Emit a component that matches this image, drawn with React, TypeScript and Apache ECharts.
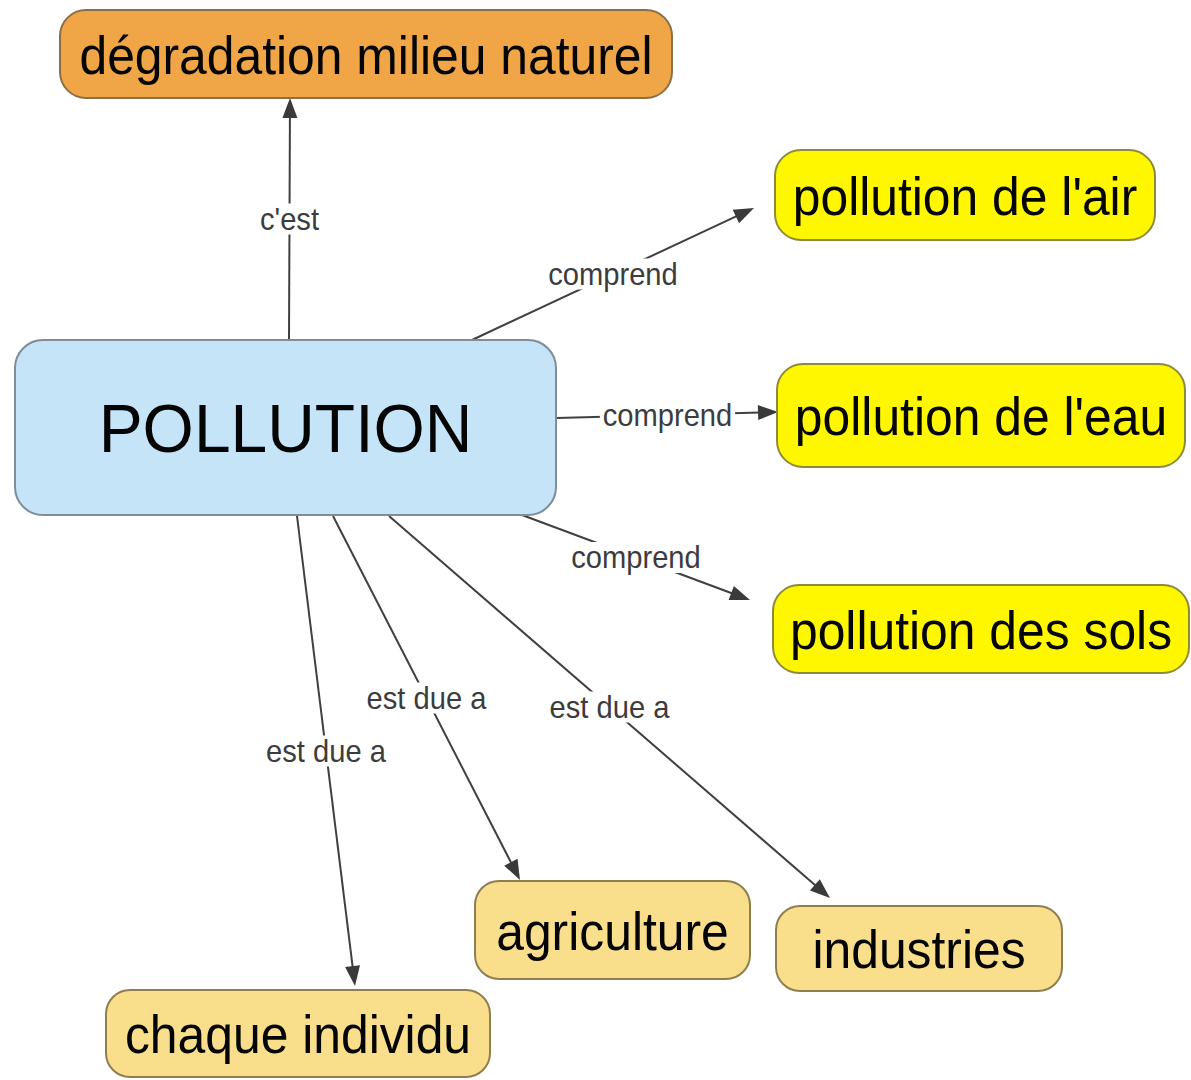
import React, { useEffect, useRef } from 'react';
import * as echarts from 'echarts';

// ---- content ----
const nodeLabels = [
  'dégradation milieu naturel',
  'POLLUTION',
  "pollution de l'air",
  "pollution de l'eau",
  'pollution des sols',
  'agriculture',
  'industries',
  'chaque individu',
];
const nodeGroups = ['effect', 'central', 'type', 'type', 'type', 'cause', 'cause', 'cause'];

const edgeSources = [1, 1, 1, 1, 1, 1, 1];
const edgeTargets = [0, 2, 3, 4, 7, 5, 6];
const edgeLabels = ["c'est", 'comprend', 'comprend', 'comprend', 'est due a', 'est due a', 'est due a'];

// ---- layout (map coordinates, 1191 x 1080 space) ----
const nodeBoxes = [
  [60, 10, 672, 98],
  [15, 340, 556, 515],
  [775, 150, 1155, 240],
  [777, 364, 1185, 467],
  [773, 585, 1189, 673],
  [475, 881, 750, 979],
  [776, 906, 1062, 991],
  [106, 990, 490, 1077],
];
const edgeAnchors = [
  [289, 340, 290, 98],
  [472, 340, 754, 208],
  [557, 418, 778, 412],
  [522, 515, 750, 600],
  [297, 516, 355, 986],
  [333, 516, 520, 880],
  [389, 516, 830, 898],
];

// ---- styles ----
const groupStyles: Record<string, { fill: string; stroke: string; fontSize: number; scaleX: number; r: number }> = {
  effect: { fill: '#F0A646', stroke: '#8a7048', fontSize: 53, scaleX: 0.94, r: 26 },
  central: { fill: '#C5E4F8', stroke: '#7d8d99', fontSize: 68, scaleX: 0.97, r: 28 },
  type: { fill: '#FFF700', stroke: '#8f8a3a', fontSize: 53, scaleX: 0.94, r: 26 },
  cause: { fill: '#F9DE8C', stroke: '#8f7f50', fontSize: 53, scaleX: 0.94, r: 24 },
};
const FONT = '"Liberation Sans", Arial, Helvetica, sans-serif';

export default function App() {
  const ref = useRef<HTMLDivElement>(null);
  useEffect(() => {
    if (!ref.current) return;
    const chart = echarts.init(ref.current, undefined, { renderer: 'svg' });
    const option: any = {
      animation: false,
      backgroundColor: '#ffffff',
      grid: { left: 0, right: 0, top: 0, bottom: 0 },
      xAxis: { type: 'value', min: 0, max: 1191, show: false },
      yAxis: { type: 'value', min: 0, max: 1080, inverse: true, show: false },
      series: [
        {
          type: 'custom',
          name: 'liens',
          coordinateSystem: 'cartesian2d',
          clip: false,
          z: 1,
          encode: { x: [0, 2], y: [1, 3] },
          data: edgeAnchors.map((a, i) => ({ value: a, name: `${nodeLabels[edgeSources[i]]} → ${nodeLabels[edgeTargets[i]]}` })),
          renderItem: (params: any, api: any) => {
            const p0 = api.coord([api.value(0), api.value(1)]);
            const p1 = api.coord([api.value(2), api.value(3)]);
            const dx = p1[0] - p0[0];
            const dy = p1[1] - p0[1];
            const len = Math.hypot(dx, dy);
            const ux = dx / len;
            const uy = dy / len;
            const AL = 20;
            const AW = 7.5;
            const bx = p1[0] - ux * AL;
            const by = p1[1] - uy * AL;
            const nx = -uy;
            const ny = ux;
            return {
              type: 'group',
              children: [
                {
                  type: 'line',
                  shape: { x1: p0[0], y1: p0[1], x2: bx + ux * 2, y2: by + uy * 2 },
                  style: { stroke: '#404040', lineWidth: 2 },
                },
                {
                  type: 'polygon',
                  shape: { points: [[p1[0], p1[1]], [bx + nx * AW, by + ny * AW], [bx - nx * AW, by - ny * AW]] },
                  style: { fill: '#3a3a3a' },
                },
                {
                  type: 'text',
                  x: (p0[0] + p1[0]) / 2,
                  y: (p0[1] + p1[1]) / 2,
                  scaleX: 0.94,
                  style: {
                    text: edgeLabels[params.dataIndex],
                    x: 0,
                    y: 0,
                    align: 'center',
                    verticalAlign: 'middle',
                    fontSize: 31,
                    fontFamily: FONT,
                    fill: '#3c3c3c',
                    backgroundColor: '#ffffff',
                    padding: [0, 3],
                  },
                },
              ],
            };
          },
        },
        {
          type: 'custom',
          name: 'concepts',
          coordinateSystem: 'cartesian2d',
          clip: false,
          z: 2,
          encode: { x: [0, 2], y: [1, 3] },
          data: nodeBoxes.map((b, i) => ({ value: b, name: nodeLabels[i] })),
          renderItem: (params: any, api: any) => {
            const i = params.dataIndex;
            const st = groupStyles[nodeGroups[i]];
            const a = api.coord([api.value(0), api.value(1)]);
            const b = api.coord([api.value(2), api.value(3)]);
            const x = Math.min(a[0], b[0]);
            const y = Math.min(a[1], b[1]);
            const w = Math.abs(b[0] - a[0]);
            const h = Math.abs(b[1] - a[1]);
            return {
              type: 'group',
              children: [
                {
                  type: 'rect',
                  shape: { x, y, width: w, height: h, r: st.r },
                  style: { fill: st.fill, stroke: st.stroke, lineWidth: 2 },
                },
                {
                  type: 'text',
                  x: x + w / 2,
                  y: y + h / 2 + 1,
                  scaleX: st.scaleX,
                  style: {
                    text: nodeLabels[i],
                    x: 0,
                    y: 0,
                    align: 'center',
                    verticalAlign: 'middle',
                    fontSize: st.fontSize,
                    fontFamily: FONT,
                    fill: '#050505',
                  },
                },
              ],
            };
          },
        },
      ],
    };
    chart.setOption(option);
    return () => chart.dispose();
  }, []);
  return (
    <div
      ref={ref}
      style={{ position: 'absolute', left: 0, top: 0, width: 1191, height: 1080, background: '#fff' }}
    />
  );
}
